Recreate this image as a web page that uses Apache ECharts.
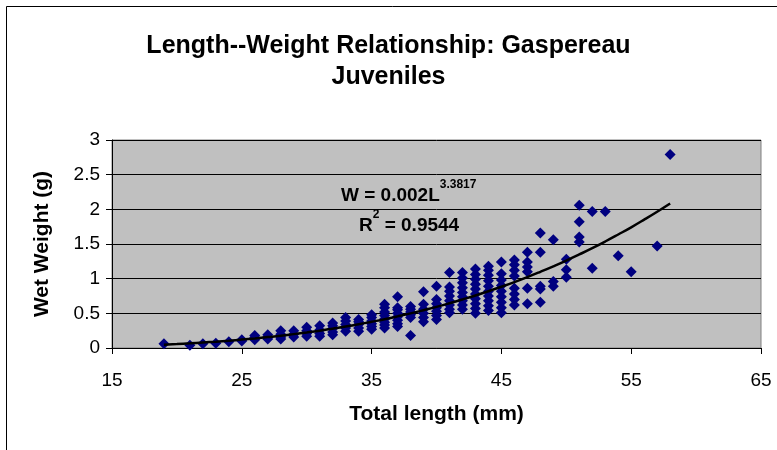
<!DOCTYPE html>
<html>
<head>
<meta charset="utf-8">
<script src="https://cdn.jsdelivr.net/npm/echarts@6/dist/echarts.min.js"></script>
<style>
  html, body { margin: 0; padding: 0; background: #ffffff; }
  #chart { width: 777px; height: 450px; }
</style>
</head>
<body>
<div id="chart"></div>
<script>
// Individual fish: total length (mm) and wet weight (g), paired by index
const lengthsMm = [
  19, 21, 22, 23, 24,
  25, 25,
  26, 26, 26,
  27, 27, 27,
  28, 28, 28, 28,
  29, 29, 29,
  30, 30, 30, 30,
  31, 31, 31, 31,
  32, 32, 32, 32, 32,
  33, 33, 33, 33, 33,
  34, 34, 34, 34, 34,
  35, 35, 35, 35, 35, 35,
  36, 36, 36, 36, 36, 36, 36, 36,
  37, 37, 37, 37, 37, 37, 37, 37,
  38, 38, 38, 38, 38, 38,
  39, 39, 39, 39, 39, 39,
  40, 40, 40, 40, 40, 40, 40,
  41, 41, 41, 41, 41, 41, 41, 41,
  42, 42, 42, 42, 42, 42, 42, 42, 42,
  43, 43, 43, 43, 43, 43, 43, 43, 43, 43,
  44, 44, 44, 44, 44, 44, 44, 44, 44, 44,
  45, 45, 45, 45, 45, 45, 45, 45, 45,
  46, 46, 46, 46, 46, 46, 46, 46,
  47, 47, 47, 47, 47, 47,
  48, 48, 48, 48, 48,
  49, 49, 49,
  50, 50, 50,
  51, 51, 51, 51,
  52, 52,
  53, 54, 55, 57, 58
];
const weightsG = [
  0.06, 0.04, 0.06, 0.07, 0.09,
  0.10, 0.12,
  0.12, 0.15, 0.18,
  0.13, 0.16, 0.19,
  0.13, 0.16, 0.20, 0.25,
  0.16, 0.20, 0.25,
  0.17, 0.21, 0.25, 0.30,
  0.17, 0.21, 0.26, 0.32,
  0.19, 0.23, 0.28, 0.32, 0.36,
  0.24, 0.29, 0.34, 0.39, 0.44,
  0.24, 0.29, 0.34, 0.38, 0.41,
  0.27, 0.31, 0.35, 0.39, 0.44, 0.48,
  0.29, 0.33, 0.37, 0.42, 0.47, 0.52, 0.58, 0.63,
  0.31, 0.35, 0.40, 0.45, 0.50, 0.55, 0.58, 0.74,
  0.18, 0.44, 0.48, 0.52, 0.56, 0.60,
  0.38, 0.44, 0.50, 0.56, 0.63, 0.81,
  0.41, 0.47, 0.53, 0.58, 0.64, 0.70, 0.89,
  0.51, 0.56, 0.62, 0.68, 0.75, 0.82, 0.88, 1.09,
  0.56, 0.62, 0.68, 0.74, 0.80, 0.87, 0.94, 1.01, 1.09,
  0.50, 0.57, 0.64, 0.71, 0.78, 0.85, 0.92, 0.99, 1.06, 1.14,
  0.54, 0.61, 0.68, 0.75, 0.82, 0.89, 0.97, 1.05, 1.12, 1.18,
  0.51, 0.58, 0.66, 0.74, 0.82, 0.90, 0.98, 1.07, 1.24,
  0.62, 0.70, 0.78, 0.86, 1.04, 1.12, 1.20, 1.27,
  0.64, 0.86, 1.10, 1.17, 1.24, 1.38,
  0.66, 0.85, 0.89, 1.38, 1.66,
  0.89, 0.96, 1.56,
  1.02, 1.13, 1.28,
  1.53, 1.60, 1.82, 2.06,
  1.15, 1.97,
  1.97, 1.33, 1.10, 1.47, 2.79
];

// Power trend line (W = aL^b), sampled at whole millimetres
const trendLengthMm = [19, 20, 21, 22, 23, 24, 25, 26, 27, 28, 29, 30, 31, 32, 33, 34, 35, 36, 37, 38,
  39, 40, 41, 42, 43, 44, 45, 46, 47, 48, 49, 50, 51, 52, 53, 54, 55, 56, 57, 58];
const trendWeightG = [0.048, 0.057, 0.067, 0.079, 0.091, 0.105, 0.121, 0.138, 0.157, 0.177, 0.200,
  0.224, 0.250, 0.279, 0.309, 0.342, 0.378, 0.415, 0.456, 0.499, 0.545, 0.593, 0.645, 0.700,
  0.757, 0.818, 0.883, 0.951, 1.023, 1.099, 1.178, 1.261, 1.349, 1.440, 1.536, 1.637, 1.741,
  1.851, 1.965, 2.084];

const titleLines = ['Length--Weight Relationship: Gaspereau', 'Juveniles'];
const equationText = { base: 'W = 0.002L', exponent: '3.3817' };
const rSquaredText = { base: 'R', exponent: '2', rest: ' = 0.9544' };

const FONT = "'Liberation Sans', Arial, sans-serif";

const scatterData = lengthsMm.map((l, i) => [l, weightsG[i]]);
const trendData = trendLengthMm.map((l, i) => [l, trendWeightG[i]]);

const richStyles = {
  b: { fontFamily: FONT, fontSize: 19, fontWeight: 'bold', fill: '#000', lineHeight: 26, verticalAlign: 'bottom' },
  s: { fontFamily: FONT, fontSize: 12, fontWeight: 'bold', fill: '#000', lineHeight: 26, verticalAlign: 'top' }
};

const chart = echarts.init(document.getElementById('chart'));
chart.setOption({
  animation: false,
  backgroundColor: '#ffffff',
  textStyle: { fontFamily: FONT },
  title: {
    text: titleLines.join('\n'),
    left: 'center',
    top: 26,
    textStyle: {
      fontFamily: FONT,
      fontSize: 25,
      fontWeight: 'bold',
      color: '#000000',
      lineHeight: 31
    }
  },
  grid: {
    left: 112,
    right: 16,
    top: 140,
    bottom: 102,
    show: true,
    backgroundColor: '#c0c0c0',
    borderColor: '#808080',
    borderWidth: 1
  },
  xAxis: {
    type: 'value',
    min: 15,
    max: 65,
    interval: 10,
    name: 'Total length (mm)',
    nameLocation: 'middle',
    nameGap: 56,
    nameTextStyle: { fontFamily: FONT, fontSize: 21, fontWeight: 'bold', color: '#000' },
    axisLine: { show: true, onZero: false, lineStyle: { color: '#000', width: 1 } },
    axisTick: { show: true, inside: false, length: 6, lineStyle: { color: '#000' } },
    axisLabel: { fontFamily: FONT, fontSize: 19, color: '#000', margin: 23 },
    splitLine: { show: false }
  },
  yAxis: {
    type: 'value',
    min: 0,
    max: 3,
    interval: 0.5,
    name: 'Wet Weight (g)',
    nameLocation: 'middle',
    nameGap: 59,
    nameRotate: 90,
    nameTextStyle: { fontFamily: FONT, fontSize: 21, fontWeight: 'bold', color: '#000' },
    axisLine: { show: true, lineStyle: { color: '#000', width: 1 } },
    axisTick: { show: true, inside: false, length: 6, lineStyle: { color: '#000' } },
    axisLabel: { fontFamily: FONT, fontSize: 19, color: '#000', margin: 12 },
    splitLine: { show: true, lineStyle: { color: '#000', width: 1 } }
  },
  series: [
    {
      name: 'Fish',
      type: 'scatter',
      data: scatterData,
      symbol: 'diamond',
      symbolSize: 11,
      itemStyle: { color: '#000080', opacity: 1 },
      z: 2
    },
    {
      name: 'Power trend',
      type: 'line',
      data: trendData,
      showSymbol: false,
      smooth: true,
      lineStyle: { color: '#000000', width: 2.5 },
      z: 3
    }
  ],
  graphic: [
    {
      type: 'rect',
      shape: { x: 6.5, y: 6.5, width: 820, height: 500 },
      style: { fill: 'none', stroke: '#000', lineWidth: 1 },
      silent: true
    },
    {
      type: 'text',
      left: 341,
      top: 179,
      style: {
        text: '{b|' + equationText.base + '}{s|' + equationText.exponent + '}',
        rich: richStyles
      },
      z: 10
    },
    {
      type: 'text',
      left: 359,
      top: 209,
      style: {
        text: '{b|' + rSquaredText.base + '}{s|' + rSquaredText.exponent + '}{b|' + rSquaredText.rest + '}',
        rich: richStyles
      },
      z: 10
    }
  ]
});
</script>
</body>
</html>
